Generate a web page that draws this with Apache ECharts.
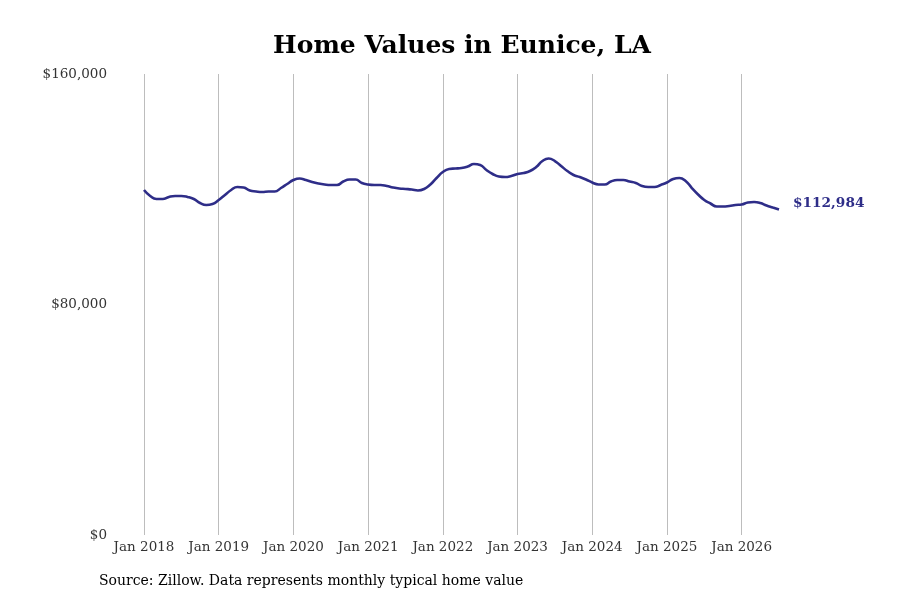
<!DOCTYPE html>
<html>
<head>
<meta charset="utf-8">
<script src="https://cdn.jsdelivr.net/npm/echarts@6/dist/echarts.min.js"></script>
<style>html,body{margin:0;padding:0;background:#fff;}#c{width:900px;height:600px;}</style>
</head>
<body>
<div id="c"></div>
<script>
const monthNames = ['Jan','Feb','Mar','Apr','May','Jun','Jul','Aug','Sep','Oct','Nov','Dec'];
const startYear = 2018;
const yTicks = [0, 80000, 160000];
// Monthly typical home value, Jan 2018 - Jul 2026
const values = [
  119740,117660,116620,116620,117330,117660,117660,117330,116620,115230,114530,114880,
  116270,118000,119740,120780,120610,119570,119220,119050,119220,119220,120430,121820,
  123210,123730,123210,122520,122000,121650,121480,121480,122690,123380,123380,122170,
  121650,121480,121480,121130,120610,120260,120090,119910,119570,120090,121650,123900,
  125990,127030,127200,127370,127900,128760,128420,126680,125290,124420,124250,124600,
  125290,125640,126330,127720,129800,130670,129800,128070,126330,124950,124250,123380,
  122340,121650,121650,122690,123210,123210,122690,122170,121130,120780,120780,121480,
  122340,123560,123900,122860,120430,118180,116270,115050,114010,114010,114190,114530,
  114710,115400,115570,115230,114360,113670,112984
];
const categories = values.map((v, i) => monthNames[i % 12] + ' ' + (startYear + Math.floor(i / 12)));
const lineColor = '#2e2d88';
const chart = echarts.init(document.getElementById('c'));
chart.setOption({
  animation: false,
  title: {
    text: 'Home Values in Eunice, LA',
    left: 457, top: 29, textAlign: 'center',
    textStyle: { fontFamily: 'DejaVu Serif', fontWeight: 'bold', fontSize: 25, color: '#000' }
  },
  graphic: [{
    type: 'text', left: 99, top: 574,
    style: { text: 'Source: Zillow. Data represents monthly typical home value', font: '14px "DejaVu Serif"', fill: '#000' }
  }],
  grid: { left: 144, right: 121, top: 74, bottom: 65 },
  xAxis: {
    type: 'category', data: categories, boundaryGap: false,
    axisLine: { show: false }, axisTick: { show: false },
    axisLabel: {
      interval: (i) => i % 12 === 0, margin: 5,
      fontFamily: 'DejaVu Serif', fontSize: 13.5, color: '#333'
    },
    splitLine: { show: true, interval: (i) => i % 12 === 0, lineStyle: { color: '#bdbdbd', width: 1 } }
  },
  yAxis: {
    type: 'value', min: yTicks[0], max: yTicks[yTicks.length - 1], interval: yTicks[1] - yTicks[0],
    axisLine: { show: false }, axisTick: { show: false }, splitLine: { show: false },
    axisLabel: {
      margin: 37, fontFamily: 'DejaVu Serif', fontSize: 13.5, color: '#333',
      formatter: (v) => '$' + v.toLocaleString('en-US')
    }
  },
  series: [{
    type: 'line', data: values, smooth: true, symbol: 'none',
    lineStyle: { color: lineColor, width: 2.6 },
    endLabel: {
      show: true, distance: 14,
      formatter: (p) => '$' + p.value.toLocaleString('en-US'),
      fontFamily: 'DejaVu Serif', fontWeight: 'bold', fontSize: 13.7, color: lineColor,
      offset: [0, -6]
    }
  }]
});
</script>
</body>
</html>
